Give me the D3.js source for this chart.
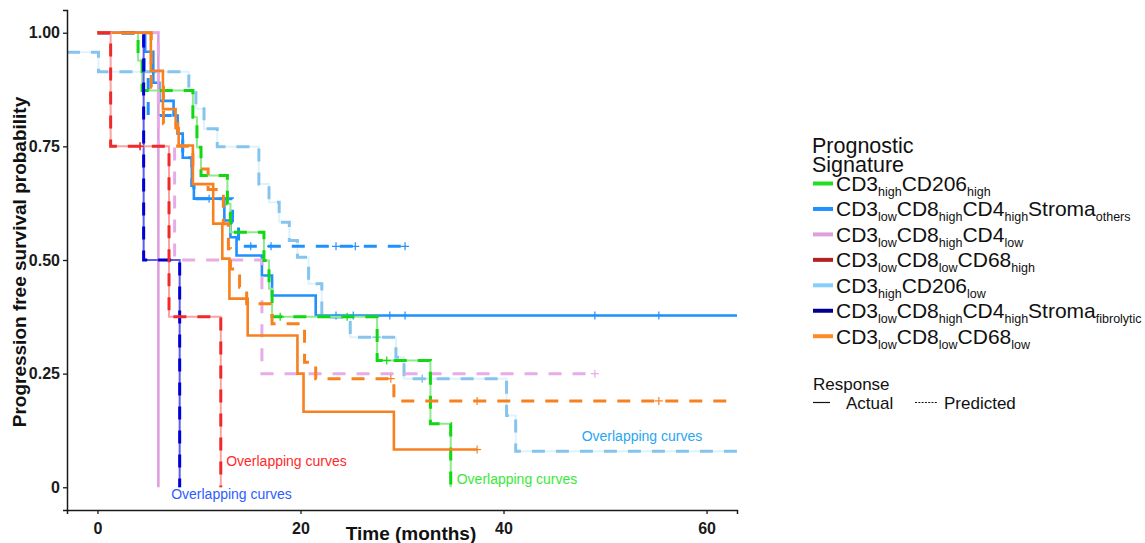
<!DOCTYPE html>
<html><head><meta charset="utf-8">
<script src="https://cdn.jsdelivr.net/npm/d3@7"></script>
<style>
body{margin:0;background:#fff}
text{font-family:"Liberation Sans",Arial,Helvetica,sans-serif}
</style>
</head><body>
<svg id="chart" width="1145" height="543"></svg>
<script>
// ---------------- DATA ----------------
const groups = ["green","blue","plum","red","lightblue","navy","orange"];
const groupLabels = [
  [["CD3","high"],["CD206","high"]],
  [["CD3","low"],["CD8","high"],["CD4","high"],["Stroma","others"]],
  [["CD3","low"],["CD8","high"],["CD4","low"]],
  [["CD3","low"],["CD8","low"],["CD68","high"]],
  [["CD3","high"],["CD206","low"]],
  [["CD3","low"],["CD8","high"],["CD4","high"],["Stroma","fibrolytic"]],
  [["CD3","low"],["CD8","low"],["CD68","low"]]
];
const responses = ["Actual","Predicted"];
const xTicks = [0,20,40,60];
const xTickLabels = ["0","20","40","60"];
const yTicks = [0,0.25,0.5,0.75,1];
const yTickLabels = ["0","0.25","0.50","0.75","1.00"];

// CD3high CD206high (green)
const greenActualTime = [0,4.0,4.4,9.4,9.8,10.2,12.8,13.1,16.4,16.9,17.2,27.55,32.8,34.8];
const greenActualSurv = [1,0.939,0.873,0.814,0.748,0.686,0.624,0.561,0.499,0.437,0.375,0.279,0.14,0];
const greenActualCensor = [18.0,24.6,28.5];
const greenPredTime = [0,4.0,4.4,9.4,9.8,10.2,12.8,13.1,16.4,16.9,17.2,27.55,32.8,34.8];
const greenPredSurv = [1,0.939,0.873,0.814,0.748,0.686,0.624,0.561,0.499,0.437,0.375,0.279,0.14,0];
const greenPredCensor = [];

// CD3low CD8high CD4high Stroma others (blue)
const blueActualTime = [0,4.7,5.5,6.1,7.5,7.9,8.4,9.3,9.5,12.5,13.1,13.7,16.2,17.2,21.5,63];
const blueActualSurv = [1,0.958,0.89,0.85,0.818,0.778,0.725,0.664,0.635,0.587,0.55,0.51,0.466,0.422,0.378,0.378];
const blueActualCensor = [23.5,25.2,28.8,30.3,49.0,55.3];
const bluePredTime = [0,4.6,5.0,7.9,8.4,9.3,9.5,13.3,13.9,30.3];
const bluePredSurv = [1,0.913,0.818,0.778,0.725,0.664,0.635,0.583,0.53,0.53];
const bluePredCensor = [11.0,15.1,17.1,23.5,25.4,30.3];

// CD3low CD8high CD4low (plum)
const plumActualTime = [0,6.0];
const plumActualSurv = [1,0];
const plumActualCensor = [];
const plumPredTime = [0,6.0,7.6,16.2,49.0];
const plumPredSurv = [1,0.75,0.5,0.25,0.25];
const plumPredCensor = [49.0];

// CD3low CD8low CD68high (red)
const redActualTime = [0,1.3,7.05,12.15];
const redActualSurv = [1,0.75,0.375,0];
const redActualCensor = [4.2];
const redPredTime = [0,1.3,7.05,12.15];
const redPredSurv = [1,0.75,0.375,0];
const redPredCensor = [4.2];

// CD3high CD206low (light blue)
const lightblueActualTime = [-3,0.1,9.0,9.7,10.5,11.8,15.9,16.9,17.9,18.9,19.7,20.8,22.1,24.9,29.4,30.2,40.3,41.2,63];
const lightblueActualSurv = [0.957,0.914,0.872,0.833,0.789,0.749,0.667,0.627,0.583,0.543,0.506,0.448,0.374,0.330,0.286,0.239,0.158,0.079,0.079];
const lightblueActualCensor = [27.5,32.0];
const lightbluePredTime = [-3,0.1,9.0,9.7,10.5,11.8,15.9,16.9,17.9,18.9,19.7,20.8,22.1,24.9,29.4,30.2,40.3,41.2,63];
const lightbluePredSurv = [0.957,0.914,0.872,0.833,0.789,0.749,0.667,0.627,0.583,0.543,0.506,0.448,0.374,0.330,0.286,0.239,0.158,0.079,0.079];
const lightbluePredCensor = [27.5,32.0];

// CD3low CD8high CD4high Stroma fibrolytic (navy)
const navyActualTime = [0,4.55,8.1];
const navyActualSurv = [1,0.5,0];
const navyActualCensor = [];
const navyPredTime = [0,4.55,8.1];
const navyPredSurv = [1,0.5,0];
const navyPredCensor = [];

// CD3low CD8low CD68low (orange)
const orangeActualTime = [0,5.26,6.45,7.7,8.0,9.4,11.4,12.3,13.0,14.8,19.7,20.3,29.2,37.4];
const orangeActualSurv = [1,0.916,0.832,0.79,0.752,0.667,0.58,0.503,0.415,0.334,0.25,0.166,0.083,0.083];
const orangeActualCensor = [37.4];
const orangePredTime = [0,5.3,6.5,7.9,9.4,10.9,12.4,12.9,13.1,14.0,14.7,17.2,20.4,21.5,29.2,63];
const orangePredSurv = [1,0.88,0.80,0.75,0.70,0.655,0.58,0.525,0.48,0.44,0.404,0.36,0.275,0.239,0.19,0.19];
const orangePredCensor = [28.9,37.4,55.3];

// annotations ("Overlapping curves")
const annotText = ["Overlapping curves","Overlapping curves","Overlapping curves","Overlapping curves"];
const annotGroup = ["red","navy","green","lightblue"];
const annotTime = [18.62,13.2,41.33,53.64];
const annotSurv = [0.058,-0.015,0.018,0.113];

// ---------------- STYLE ----------------
const legendColor = {green:"#22dd22",blue:"#1e90ff",plum:"#dda0dd",red:"#b22222",lightblue:"#87cefa",navy:"#00008b",orange:"#ff8a2a"};
const lineStyle = {
  green:{solid:"#8fea8f",solidW:2,dash:"#12d812"},
  blue:{solid:"#1e90ff",solidW:2.6,dash:"#1e90ff"},
  plum:{solid:"#dda0dd",solidW:2.6,dash:"#e7abe7"},
  red:{solid:"#f8a4a4",solidW:2,dash:"#f02a2a"},
  lightblue:{solid:"#def3fc",solidW:2,dash:"#86c4ee"},
  navy:{solid:"#5c5cf0",solidW:2,dash:"#0000d4"},
  orange:{solid:"#f8811f",solidW:2.6,dash:"#f8811f"}
};
const annotColor = {red:"#ff2a2a",navy:"#2f5cff",green:"#3ae83a",lightblue:"#2aa6f2"};
const drawOrder = ["lightblue","blue","plum","green","navy","orange","red"];

// ---------------- BUILD ----------------
const dataSrc = {
  green:[[greenActualTime,greenActualSurv,greenActualCensor],[greenPredTime,greenPredSurv,greenPredCensor]],
  blue:[[blueActualTime,blueActualSurv,blueActualCensor],[bluePredTime,bluePredSurv,bluePredCensor]],
  plum:[[plumActualTime,plumActualSurv,plumActualCensor],[plumPredTime,plumPredSurv,plumPredCensor]],
  red:[[redActualTime,redActualSurv,redActualCensor],[redPredTime,redPredSurv,redPredCensor]],
  lightblue:[[lightblueActualTime,lightblueActualSurv,lightblueActualCensor],[lightbluePredTime,lightbluePredSurv,lightbluePredCensor]],
  navy:[[navyActualTime,navyActualSurv,navyActualCensor],[navyPredTime,navyPredSurv,navyPredCensor]],
  orange:[[orangeActualTime,orangeActualSurv,orangeActualCensor],[orangePredTime,orangePredSurv,orangePredCensor]]
};

const svg = d3.select("#chart");
const x = d3.scaleLinear().domain([-3,63]).range([67,737]);
const y = d3.scaleLinear().domain([-0.05,1.05]).range([510,10]);

svg.append("defs").append("clipPath").attr("id","panel")
  .append("rect").attr("x",x.range()[0]).attr("y",y.range()[1])
  .attr("width",x.range()[1]-x.range()[0]).attr("height",y.range()[0]-y.range()[1]);

const line = d3.line().x(d=>x(d[0])).y(d=>y(d[1])).curve(d3.curveStepAfter);
const plot = svg.append("g").attr("clip-path","url(#panel)");

function survAt(times, surv, t){
  let v = surv[0];
  for(let i=0;i<times.length;i++){ if(times[i]<=t) v=surv[i]; }
  return v;
}

drawOrder.forEach(g=>{
  const st = lineStyle[g];
  dataSrc[g].forEach((s,ri)=>{
    const [times,surv,cens] = s;
    const pts = times.map((t,i)=>[t,surv[i]]);
    const color = ri===0 ? st.solid : st.dash;
    plot.append("path").datum(pts)
      .attr("d",line).attr("fill","none")
      .attr("stroke",color)
      .attr("stroke-width", ri===0 ? st.solidW : 3)
      .attr("stroke-dasharray", ri===0 ? null : "13,11");
    const cg = plot.append("g").attr("stroke", ri===0 ? (st.solidW<2.5?st.dash:st.solid) : st.dash).attr("stroke-width",1.2);
    cens.forEach(t=>{
      const cx = x(t), cy = y(survAt(times,surv,t));
      cg.append("line").attr("x1",cx-4).attr("x2",cx+4).attr("y1",cy).attr("y2",cy);
      cg.append("line").attr("x1",cx).attr("x2",cx).attr("y1",cy-4).attr("y2",cy+4);
    });
  });
});

// annotations
annotText.forEach((txt,i)=>{
  svg.append("text").attr("x",x(annotTime[i])).attr("y",y(annotSurv[i]))
    .attr("dy","0.35em").attr("text-anchor","middle")
    .attr("font-size",14).attr("fill",annotColor[annotGroup[i]]).text(txt);
});

// axes
const yAxis = svg.append("g").attr("transform",`translate(${x.range()[0]},0)`)
  .call(d3.axisLeft(y).tickValues(yTicks).tickFormat((d,i)=>yTickLabels[i]).tickSizeOuter(0).tickSize(4).tickPadding(3));
const xAxis = svg.append("g").attr("transform",`translate(0,${y.range()[0]})`)
  .call(d3.axisBottom(x).tickValues(xTicks).tickFormat((d,i)=>xTickLabels[i]).tickSizeOuter(0).tickSize(4).tickPadding(9));
[xAxis,yAxis].forEach(a=>{
  a.select(".domain").attr("stroke","#1a1a1a").attr("stroke-width",1.5);
  a.selectAll(".tick line").attr("stroke","#1a1a1a").attr("stroke-width",1.3);
  a.selectAll(".tick text").attr("font-family","Liberation Sans, Arial, sans-serif")
    .attr("font-size",16).attr("font-weight","bold").attr("fill","#1a1a1a");
});

svg.append("text").attr("x",411).attr("y",540).attr("text-anchor","middle")
  .attr("font-size",19).attr("font-weight","bold").attr("fill","#111").text("Time (months)");
svg.append("text").attr("transform","translate(26,262) rotate(-90)").attr("text-anchor","middle")
  .attr("font-size",19).attr("font-weight","bold").attr("fill","#111").text("Progression free survival probability");

// legend: signatures
const leg = svg.append("g");
leg.append("text").attr("x",812).attr("y",153).attr("font-size",21.5).attr("fill","#111").text("Prognostic");
leg.append("text").attr("x",812).attr("y",172).attr("font-size",21.5).attr("fill","#111").text("Signature");
groups.forEach((g,i)=>{
  const ky = 183.5 + i*25.45;
  leg.append("line").attr("x1",813).attr("x2",833).attr("y1",ky).attr("y2",ky)
    .attr("stroke",legendColor[g]).attr("stroke-width",4);
  const t = leg.append("text").attr("x",836).attr("y",ky+7.5).attr("fill","#111");
  groupLabels[i].forEach((p,j)=>{
    t.append("tspan").attr("font-size",21).attr("dy", j===0?0:-5).text(p[0]);
    t.append("tspan").attr("font-size",12.5).attr("dy",5).text(p[1]);
  });
});

// legend: response
leg.append("text").attr("x",813).attr("y",390).attr("font-size",17).attr("fill","#111").text("Response");
leg.append("line").attr("x1",813).attr("x2",830).attr("y1",402.5).attr("y2",402.5).attr("stroke","#111").attr("stroke-width",1.2);
leg.append("text").attr("x",846).attr("y",408.5).attr("font-size",17).attr("fill","#111").text(responses[0]);
leg.append("line").attr("x1",915).attr("x2",938).attr("y1",402.5).attr("y2",402.5).attr("stroke","#111").attr("stroke-width",1.2).attr("stroke-dasharray","2,1.3");
leg.append("text").attr("x",944).attr("y",408.5).attr("font-size",17).attr("fill","#111").text(responses[1]);
</script>
</body></html>
